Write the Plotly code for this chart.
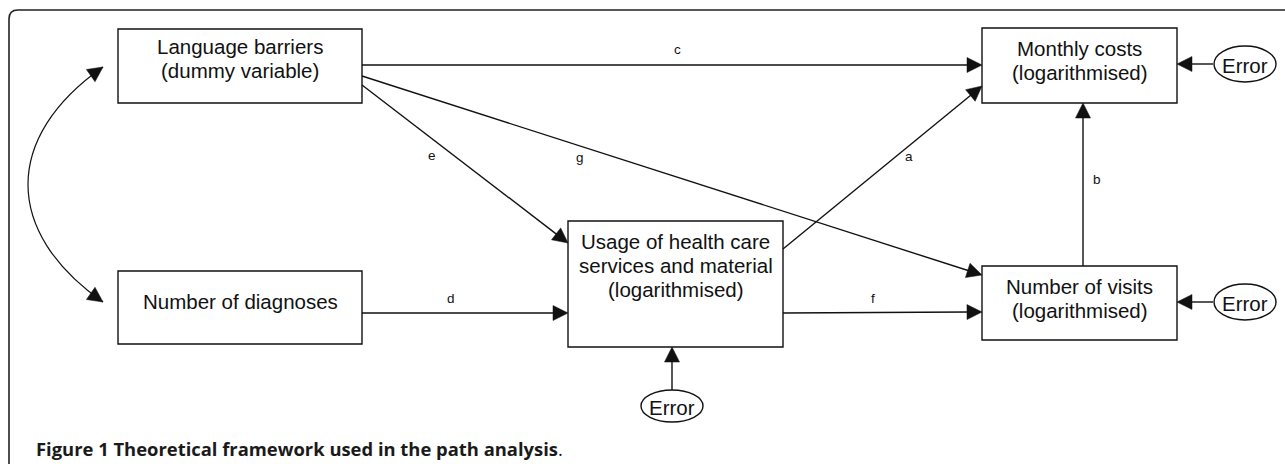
import math
import plotly.graph_objects as go

W, H = 1285, 464

# ---- diagram content ----
node_names = ["lang", "diag", "usage", "costs", "visits"]
node_labels = [
    ["Language barriers", "(dummy variable)"],
    ["Number of diagnoses"],
    ["Usage of health care", "services and material", "(logarithmised)"],
    ["Monthly costs", "(logarithmised)"],
    ["Number of visits", "(logarithmised)"],
]
path_names = ["a", "b", "c", "d", "e", "f", "g"]
error_targets = ["costs", "visits", "usage"]
error_label = "Error"
caption_bold = "Figure 1 Theoretical framework used in the path analysis"
caption_end = "."

# ---- layout (pixel geometry) ----
boxes = {
    "lang": (118, 29, 362, 103),
    "diag": (118, 271, 362, 344),
    "usage": (568, 221, 783, 347),
    "costs": (982, 28, 1177, 103),
    "visits": (982, 266, 1177, 340),
}
first_line_y = {"lang": 46, "diag": 301, "usage": 241, "costs": 48, "visits": 286}
line_gap = 24

edges = {
    "a": ((783, 249), (982, 86), (909, 156)),
    "b": ((1083, 266), (1083, 103), (1097, 179)),
    "c": ((362, 65), (982, 65), (677, 49)),
    "d": ((362, 313), (568, 313), (451, 298)),
    "e": ((362, 85), (568, 243), (432, 155)),
    "f": ((783, 313), (982, 312), (873, 298)),
    "g": ((362, 76), (982, 275), (580, 157)),
}
errors = {
    "costs": ((1245, 64), 31, 18, (1213, 64), (1177, 64)),
    "visits": ((1245, 302), 31, 18, (1213, 302), (1177, 302)),
    "usage": ((672, 406), 31, 16, (672, 390), (672, 347)),
}

INK = "#111111"
HEAD_L, HEAD_W = 15, 7.5
LW = 1.4
BOX_FONT = dict(family="Liberation Sans, Arial", size=20.5, color=INK)
PATH_FONT = dict(family="Liberation Sans, Arial", size=13.5, color=INK)

shapes = []
annotations = []


def head(tip, ux, uy):
    bx, by = tip[0] - ux * HEAD_L, tip[1] - uy * HEAD_L
    px, py = -uy, ux
    path = "M {:.2f},{:.2f} L {:.2f},{:.2f} L {:.2f},{:.2f} Z".format(
        tip[0], tip[1], bx + px * HEAD_W, by + py * HEAD_W, bx - px * HEAD_W, by - py * HEAD_W)
    shapes.append(dict(type="path", path=path, fillcolor=INK, line=dict(color=INK, width=0.5)))


def arrow(p0, p1):
    dx, dy = p1[0] - p0[0], p1[1] - p0[1]
    L = math.hypot(dx, dy)
    ux, uy = dx / L, dy / L
    bx, by = p1[0] - ux * HEAD_L, p1[1] - uy * HEAD_L
    shapes.append(dict(type="line", x0=p0[0], y0=p0[1], x1=bx + ux * 2, y1=by + uy * 2,
                       line=dict(color=INK, width=LW)))
    head(p1, ux, uy)


# outer rounded frame (cut by the page edges)
r = 9
fx, fy = 9, 10
shapes.append(dict(type="path",
                   path=f"M {fx},{H + 5} L {fx},{fy + r} Q {fx},{fy} {fx + r},{fy} L {W + 5},{fy}",
                   line=dict(color="#222222", width=1.6)))

# boxes + text
for name, lines in zip(node_names, node_labels):
    x0, y0, x1, y1 = boxes[name]
    shapes.append(dict(type="rect", x0=x0, y0=y0, x1=x1, y1=y1,
                       line=dict(color=INK, width=LW), fillcolor="white"))
    for i, t in enumerate(lines):
        annotations.append(dict(x=(x0 + x1) / 2, y=first_line_y[name] + i * line_gap, text=t,
                                showarrow=False, xanchor="center", yanchor="middle",
                                font=BOX_FONT))

# paths
for pn in path_names:
    p0, p1, lp = edges[pn]
    arrow(p0, p1)
    annotations.append(dict(x=lp[0], y=lp[1], text=pn, showarrow=False, font=PATH_FONT))

# error terms
for tgt in error_targets:
    (cx, cy), rx, ry, s, e = errors[tgt]
    shapes.append(dict(type="circle", x0=cx - rx, x1=cx + rx, y0=cy - ry, y1=cy + ry,
                       line=dict(color=INK, width=LW), fillcolor="white"))
    arrow(s, e)
    annotations.append(dict(x=cx, y=cy + 1, text=error_label, showarrow=False, font=BOX_FONT))

# curved double-headed covariance arrow
P0, P1, P2, P3 = (103, 67), (3, 137), (3, 232), (103, 302)
shapes.append(dict(type="path",
                   path=f"M {P0[0]},{P0[1]} C {P1[0]},{P1[1]} {P2[0]},{P2[1]} {P3[0]},{P3[1]}",
                   line=dict(color=INK, width=1.2)))
for tip, ctrl in ((P0, P1), (P3, P2)):
    dx, dy = tip[0] - ctrl[0], tip[1] - ctrl[1]
    L = math.hypot(dx, dy)
    head(tip, dx / L, dy / L)

# caption
annotations.append(dict(x=34, y=448, xanchor="left", yanchor="middle", showarrow=False,
                        text=f"<b>{caption_bold}</b>{caption_end}",
                        font=dict(family="Open Sans", size=18.4, color="#1a1a1a")))

fig = go.Figure()
fig.update_layout(
    width=W, height=H, margin=dict(l=0, r=0, t=0, b=0),
    paper_bgcolor="white", plot_bgcolor="white",
    xaxis=dict(range=[0, W], visible=False, fixedrange=True),
    yaxis=dict(range=[H, 0], visible=False, fixedrange=True),
    shapes=shapes, annotations=annotations, showlegend=False,
)
fig.write_html("out.html", config={"displayModeBar": False},
               post_script="document.body.style.margin='0';document.body.style.overflow='hidden';")
